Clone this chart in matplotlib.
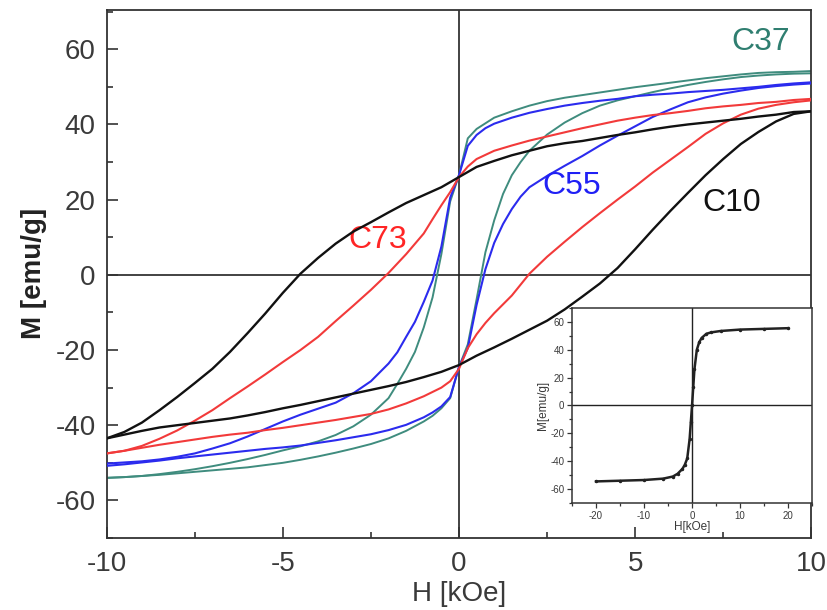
import matplotlib.pyplot as plt
from matplotlib.ticker import MultipleLocator

plt.rcParams['font.family'] = ['Liberation Sans', 'DejaVu Sans']
plt.rcParams['axes.unicode_minus'] = False

# ---- C10 (black) ----
h_c10_up = [10, 9.5, 9, 8.5, 8, 7.5, 7, 6.5, 6, 5.5, 5, 4.5, 4, 3.5, 3, 2.5, 2, 1.5, 1, 0.5,
            0, -0.5, -1, -1.5, -2, -2.5, -3, -3.5, -4, -4.5, -5, -5.5, -6, -6.5, -7, -7.5,
            -8, -8.5, -9, -9.5, -10]
m_c10_up = [43.5, 43.3, 42.6, 42.1, 41.5, 41.0, 40.5, 40.0, 39.4, 38.7, 37.9, 37.2, 36.4, 35.6,
            35.0, 34.2, 33.0, 31.8, 30.3, 28.7, 26.0, 23.3, 21.2, 19.1, 16.6, 14.0, 11.5, 8.3,
            4.5, 0.3, -4.8, -10.3, -15.5, -20.5, -25.0, -28.8, -32.5, -36.0, -39.3, -41.8, -43.5]
h_c10_dn = [-10, -9.5, -9, -8.5, -8, -7.5, -7, -6.5, -6, -5.5, -5, -4.5, -4, -3.5, -3, -2.5, -2,
            -1.5, -1, -0.5, 0, 0.5, 1, 1.5, 2, 2.5, 3, 3.5, 4, 4.5, 5, 5.5, 6, 6.5, 7, 7.5, 8,
            8.5, 9, 9.5, 10]
m_c10_dn = [-43.5, -42.5, -41.5, -40.6, -40.0, -39.4, -38.8, -38.2, -37.4, -36.5, -35.5, -34.6,
            -33.6, -32.6, -31.6, -30.6, -29.6, -28.5, -27.2, -25.8, -24.0, -21.5, -19.3, -17.0,
            -14.6, -12.2, -9.2, -5.8, -2.3, 1.8, 6.8, 12.0, 17.0, 21.8, 26.5, 30.8, 34.8, 38.0,
            40.8, 42.8, 43.5]

# ---- C73 (red) ----
h_c73_up = [10, 9.5, 9, 8.5, 8, 7.5, 7, 6.5, 6, 5.5, 5, 4.5, 4, 3.5, 3, 2.5, 2, 1.5, 1, 0.5,
            0.25, 0, -0.25, -0.5, -0.75, -1, -1.5, -2, -2.5, -3, -3.5, -4, -4.5, -5, -5.5, -6,
            -6.5, -7, -7.5, -8, -8.5, -9, -9.5, -10]
m_c73_up = [46.8, 46.5, 46.0, 45.7, 45.2, 44.8, 44.3, 43.6, 43.0, 42.5, 41.8, 41.0, 40.0, 39.0,
            37.9, 36.8, 35.7, 34.4, 33.0, 30.8, 28.8, 26.0, 22.0, 18.5, 14.8, 11.0, 5.5, 0.5,
            -4.0, -8.2, -12.3, -16.5, -20.0, -23.2, -26.5, -29.7, -32.8, -36.0, -38.8, -41.4,
            -43.6, -45.5, -46.8, -47.5]
h_c73_dn = [-10, -9.5, -9, -8.5, -8, -7.5, -7, -6.5, -6, -5.5, -5, -4.5, -4, -3.5, -3, -2.5, -2,
            -1.5, -1, -0.5, -0.25, 0, 0.25, 0.5, 0.75, 1, 1.5, 2, 2.5, 3, 3.5, 4, 4.5, 5, 5.5,
            6, 6.5, 7, 7.5, 8, 8.5, 9, 9.5, 10]
m_c73_dn = [-47.5, -46.8, -46.0, -45.2, -44.5, -43.8, -43.1, -42.5, -42.0, -41.3, -40.7, -40.0,
            -39.3, -38.6, -37.8, -37.0, -35.8, -34.2, -32.3, -30.0, -28.3, -25.0, -19.5, -15.8,
            -12.8, -10.2, -5.5, 0.3, 4.8, 8.8, 12.7, 16.4, 20.0, 23.5, 27.2, 30.6, 34.0, 37.5,
            40.3, 42.6, 44.2, 45.2, 45.9, 46.4]

# ---- C55 (blue) and C37 (teal) share field steps ----
h_soft_up = [10, 9.5, 9, 8.5, 8, 7.5, 7, 6.5, 6, 5.5, 5, 4.5, 4, 3.5, 3, 2.5, 2, 1.5, 1,
             0.75, 0.5, 0.25, 0, -0.25, -0.5, -0.75, -1, -1.25, -1.5, -1.75, -2,
             -2.5, -3, -3.5, -4, -4.5, -5, -5.5, -6, -6.5, -7, -7.5, -8, -8.5, -9, -9.5, -10]
h_soft_dn = [-10, -9.5, -9, -8.5, -8, -7.5, -7, -6.5, -6, -5.5, -5, -4.5, -4, -3.5, -3, -2.5,
             -2, -1.5, -1, -0.75, -0.5, -0.25, 0, 0.25, 0.5, 0.75, 1, 1.25, 1.5, 1.75, 2,
             2.5, 3, 3.5, 4, 4.5, 5, 5.5, 6, 6.5, 7, 7.5, 8, 8.5, 9, 9.5, 10]
m_c55_up = [51.2, 50.9, 50.5, 50.0, 49.6, 49.2, 48.9, 48.6, 48.2, 47.9, 47.5, 46.8, 46.3, 45.7,
            45.0, 44.1, 43.1, 41.8, 40.2,
            39.0, 37.2, 34.3, 26.5, 20.5, 7.5, -1.5, -7.2, -12.5, -16.5, -20.6, -23.6,
            -28.3, -31.5, -34.0, -35.6, -37.2, -39.0, -41.0, -43.0, -44.8, -46.2, -47.5, -48.4,
            -49.1, -49.6, -49.9, -50.2]
m_c55_dn = [-50.8, -50.4, -49.9, -49.4, -48.8, -48.3, -47.8, -47.3, -46.8, -46.3, -45.9, -45.4,
            -44.7, -44.0, -43.2, -42.4, -41.3, -39.9, -37.9,
            -36.6, -35.0, -32.5, -24.5, -19.5, -8.0, 1.5, 8.5, 13.5, 17.5, 20.8, 23.3,
            26.3, 29.0, 31.6, 34.4, 37.0, 39.5, 42.0, 44.0, 45.9, 47.2, 48.2, 49.0, 49.7, 50.2,
            50.6, 50.9]
m_c37_up = [54.2, 54.0, 53.9, 53.7, 53.3, 52.8, 52.3, 51.7, 51.1, 50.5, 49.9, 49.2, 48.5, 47.8,
            47.1, 46.2, 45.0, 43.5, 41.8,
            40.3, 38.8, 36.3, 26.5, 19.5, 5.5, -6.0, -14.0, -20.5, -25.0, -29.0, -32.8,
            -37.2, -40.3, -42.6, -44.3, -45.6, -46.7, -47.9, -49.0, -50.0, -50.9, -51.7, -52.4,
            -53.0, -53.5, -53.8, -54.0]
m_c37_dn = [-54.0, -53.8, -53.5, -53.2, -52.8, -52.4, -52.0, -51.6, -51.2, -50.6, -50.0, -49.2,
            -48.3, -47.3, -46.2, -45.0, -43.5, -41.5, -39.0,
            -37.5, -35.5, -32.8, -24.5, -18.5, -6.5, 6.0, 14.5, 21.5, 26.5, 30.0, 33.0,
            37.3, 40.5, 43.0, 45.0, 46.4, 47.5, 48.6, 49.6, 50.5, 51.3, 52.0, 52.6, 53.0, 53.3,
            53.5, 53.6]

# ---- inset: initial magnetisation curve ----
h_inset = [-20, -15, -10, -6, -4, -3, -2, -1.5, -1, -0.5, -0.25, 0, 0.25, 0.5, 1, 1.5, 2, 3,
           4, 6, 10, 15, 20]
m_inset = [-54.5, -54.0, -53.5, -52.5, -51.0, -49.0, -45.5, -42.5, -38.0, -24.0, -12.0, 0.0,
           13.0, 26.0, 40.0, 45.5, 48.5, 51.5, 52.5, 53.5, 54.5, 55.0, 55.5]

BLACK = '#111111'
RED = '#f23a3a'
BLUE = '#2b2bee'
TEAL = '#3f8c7e'
TXT = '#3a3a3a'

fig = plt.figure(figsize=(8.27, 6.10), dpi=100)
ax = fig.add_axes([0.129, 0.118, 0.852, 0.866])

ax.axhline(0, color='#222222', lw=1.2, zorder=1)
ax.axvline(0, color='#222222', lw=1.2, zorder=1)

ax.plot(h_soft_up, m_c37_up, color=TEAL, lw=1.4, zorder=2)
ax.plot(h_soft_dn, m_c37_dn, color=TEAL, lw=1.4, zorder=2)
ax.plot(h_soft_up, m_c55_up, color=BLUE, lw=1.5, zorder=3)
ax.plot(h_soft_dn, m_c55_dn, color=BLUE, lw=1.5, zorder=3)
ax.plot(h_c73_up, m_c73_up, color=RED, lw=1.5, zorder=4)
ax.plot(h_c73_dn, m_c73_dn, color=RED, lw=1.5, zorder=4)
ax.plot(h_c10_up, m_c10_up, color=BLACK, lw=1.7, zorder=5)
ax.plot(h_c10_dn, m_c10_dn, color=BLACK, lw=1.7, zorder=5)

ax.set_xlim(-10, 10)
ax.set_ylim(-70, 70.5)
ax.xaxis.set_major_locator(MultipleLocator(5))
ax.xaxis.set_minor_locator(MultipleLocator(2.5))
ax.yaxis.set_major_locator(MultipleLocator(20))
ax.yaxis.set_minor_locator(MultipleLocator(10))
ax.tick_params(which='both', direction='in', colors='#333333', labelcolor=TXT,
               labelsize=20, width=1.2)
ax.tick_params(which='major', length=8)
ax.tick_params(which='minor', length=4)
ax.tick_params(axis='x', pad=9)
ax.tick_params(axis='y', pad=8)
for s in ax.spines.values():
    s.set_linewidth(1.3)
    s.set_color('#333333')

ax.set_xlabel('H [kOe]', fontsize=20, color=TXT, labelpad=3)
ax.set_ylabel('M [emu/g]', fontsize=20, color='#222222', fontweight='bold', labelpad=6)

ax.text(8.55, 62, 'C37', color='#2f7e70', fontsize=23, ha='center', va='center')
ax.text(3.2, 23.7, 'C55', color='#2020f5', fontsize=23, ha='center', va='center')
ax.text(7.75, 19, 'C10', color='#111111', fontsize=23, ha='center', va='center')
ax.text(-2.3, 9.3, 'C73', color='#ff2525', fontsize=23, ha='center', va='center')

# inset
axi = fig.add_axes([0.6917, 0.1754, 0.2902, 0.3197])
axi.set_facecolor('white')
axi.axhline(0, color='#222222', lw=1.0)
axi.axvline(0, color='#222222', lw=1.0)
axi.plot(h_inset, m_inset, color='#222222', lw=1.8, marker='.', ms=3)
axi.set_xlim(-25, 25)
axi.set_ylim(-70, 70)
axi.xaxis.set_major_locator(MultipleLocator(10))
axi.xaxis.set_minor_locator(MultipleLocator(5))
axi.yaxis.set_major_locator(MultipleLocator(20))
axi.yaxis.set_minor_locator(MultipleLocator(10))
axi.tick_params(which='both', direction='out', labelsize=7, colors='#333333', labelcolor=TXT,
                width=0.9, pad=2)
axi.tick_params(which='major', length=3.5)
axi.tick_params(which='minor', length=2)
for s in axi.spines.values():
    s.set_linewidth(1.1)
    s.set_color('#333333')
axi.set_xlabel('H[kOe]', fontsize=8.5, color=TXT, labelpad=0)
axi.set_ylabel('M[emu/g]', fontsize=8.5, color=TXT, labelpad=1)

fig.savefig('out.png', dpi=100)
